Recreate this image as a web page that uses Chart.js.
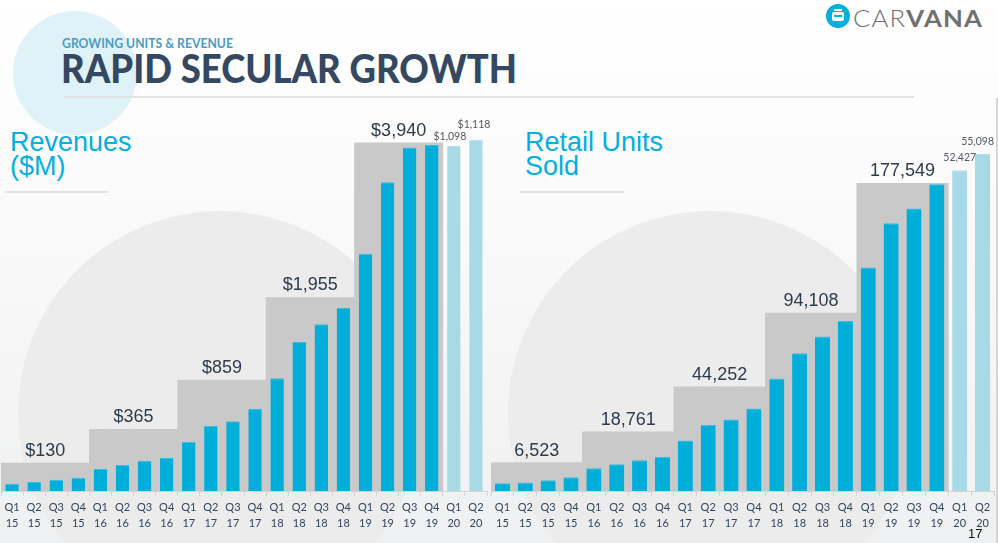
<!DOCTYPE html>
<html>
<head>
<meta charset="utf-8">
<script src="https://cdn.jsdelivr.net/npm/chart.js@4.4.1/dist/chart.umd.min.js"></script>
<style>
  html, body { margin:0; padding:0; }
  body { width:998px; height:543px; position:relative; overflow:hidden;
         background: linear-gradient(#ffffff 0%, #fafafa 40%, #eff0f1 100%);
         font-family: "Liberation Sans", Arial, sans-serif; }
  .abs { position:absolute; }
  .circle { position:absolute; border-radius:50%; }
  #sub { left:62px; top:36px; font:700 12.5px Lato, sans-serif; color:#4a9cc3; white-space:nowrap; transform-origin:0 0; }
  #title { left:61px; top:46px; font:900 40px Lato, sans-serif; color:#344862; white-space:nowrap; transform-origin:0 0; line-height:44px; }
  #rule { left:64px; top:96px; width:850px; height:2px; background:#e3e3e3; }
  .sect { font-family:"Liberation Sans", Arial, sans-serif; font-size:27px; color:#06aee0; line-height:24px; white-space:nowrap; }
  .srule { height:2px; background:#e2e2e2; }
  #logo { left:853px; top:4px; font:23px Lato, sans-serif; color:#707070; white-space:nowrap; transform-origin:0 0; letter-spacing:1px; }
  #pg { left:968px; top:526px; font:13px "Liberation Sans", Arial, sans-serif; color:#111; }
  canvas { display:block; }
</style>
</head>
<body>
<div class="circle" style="left:13px;top:11px;width:124px;height:124px;background:#dff2f8;"></div>
<div class="circle" style="left:18px;top:211px;width:404px;height:404px;background:#ececec;"></div>
<div class="circle" style="left:508px;top:211px;width:404px;height:404px;background:#ececec;"></div>
<div class="abs" style="left:996px;top:98px;width:2px;height:445px;background:#d6d6d6;"></div>

<div id="sub" class="abs">GROWING UNITS &amp; REVENUE</div>
<div id="title" class="abs">RAPID SECULAR GROWTH</div>
<div id="rule" class="abs"></div>

<div class="abs sect" style="left:10px;top:130px;">Revenues<br>($M)</div>
<div class="abs srule" style="left:5px;top:191px;width:103px;"></div>
<div class="abs sect" style="left:525px;top:130px;">Retail Units<br>Sold</div>
<div class="abs srule" style="left:520px;top:191px;width:104px;"></div>

<div class="circle" style="left:826px;top:4px;width:24px;height:24px;background:#04afdf;"></div>
<div class="abs" style="left:832px;top:12px;width:12px;height:9px;background:#ffffff;border-radius:2px;"></div>
<div class="abs" style="left:834px;top:9px;width:8px;height:2px;background:#ffffff;border-radius:1px;"></div>
<div class="abs" style="left:834px;top:15px;width:8px;height:2px;background:#04afdf;"></div>
<div id="logo" class="abs"><span style="font-weight:300">CAR</span><span style="font-weight:700">VANA</span></div>

<div class="abs" style="left:1px;top:100px;width:496px;height:443px;"><canvas id="c1"></canvas></div>
<div class="abs" style="left:491px;top:100px;width:507px;height:443px;"><canvas id="c2"></canvas></div>
<div id="pg" class="abs">17</div>

<script>
// ---------- data ----------
const quarterLabels = [
  ['Q1','15'],['Q2','15'],['Q3','15'],['Q4','15'],
  ['Q1','16'],['Q2','16'],['Q3','16'],['Q4','16'],
  ['Q1','17'],['Q2','17'],['Q3','17'],['Q4','17'],
  ['Q1','18'],['Q2','18'],['Q3','18'],['Q4','18'],
  ['Q1','19'],['Q2','19'],['Q3','19'],['Q4','19'],
  ['Q1','20'],['Q2','20']
];
// quarterly revenue, $M
const revenue = [23, 29, 36, 42, 70, 83, 96, 105, 157, 207, 222, 262,
                 359, 474, 531, 583, 755, 983, 1093, 1101, 1098, 1118];
// quarterly retail units sold
const retailUnits = [1250, 1370, 1740, 2230, 3700, 4360, 5010, 5610,
                     8270, 10770, 11700, 13490, 18390, 22520, 25240, 27800,
                     36550, 43790, 46170, 50150, 52427, 55098];
// annual totals 2015-2019
const revenueYearLabels = ['$130', '$365', '$859', '$1,955', '$3,940'];
const unitYearLabels = ['6,523', '18,761', '44,252', '94,108', '177,549'];
// level of the grey annual block, in axis units
const revenueBlockLevels = [89, 196, 353, 616, 1108];
const unitBlockLevels = [4634, 9692, 17034, 29108, 50318];
// quarters shown as labelled (lighter) bars
const revenueQuarterLabels = [null,null,null,null,null,null,null,null,null,null,null,
                              null,null,null,null,null,null,null,null,null,'$1,098','$1,118'];
const unitQuarterLabels = [null,null,null,null,null,null,null,null,null,null,null,
                           null,null,null,null,null,null,null,null,null,'52,427','55,098'];

// ---------- helpers ----------
function blockSeries(levels) {
  return quarterLabels.map((q, i) => {
    const y = Math.floor(i / 4);
    return y < levels.length ? levels[y] : null;
  });
}

const annotate = {
  id: 'annotate',
  afterDatasetsDraw(chart, args, opts) {
    const ctx = chart.ctx;
    const xs = chart.scales.x, ys = chart.scales.y;
    ctx.save();
    ctx.textAlign = 'center';
    ctx.textBaseline = 'middle';
    ctx.fillStyle = '#2f3b4d';
    ctx.font = '18px "Liberation Sans", Arial, sans-serif';
    opts.yearLabels.forEach((lab, k) => {
      const x0 = xs.getPixelForValue(k * 4), x1 = xs.getPixelForValue(k * 4 + 3);
      const y = ys.getPixelForValue(opts.levels[k]) - 12;
      ctx.fillText(lab, (x0 + x1) / 2, y);
    });
    ctx.font = '10.5px Lato, sans-serif';
    ctx.fillStyle = '#555a60';
    opts.pointLabels.forEach((lab, i) => {
      if (!lab) return;
      const x = xs.getPixelForValue(i);
      const y = ys.getPixelForValue(opts.values[i]) - opts.offsets[i - 20];
      ctx.fillText(lab, x + (opts.dx ? opts.dx[i - 20] : 0), y);
    });
    ctx.restore();
  }
};

function makeChart(id, values, levels, yearLabels, pointLabels, max, padTop, padRight, barPct, offsets, dx) {
  return new Chart(document.getElementById(id), {
    type: 'bar',
    data: {
      labels: quarterLabels,
      datasets: [
        {
          data: values,
          grouped: false,
          order: 1,
          barPercentage: barPct,
          categoryPercentage: 1,
          backgroundColor: (c) => quarterLabels[c.dataIndex][1] === '20' ? '#a7d9e7' : '#00aed9',
          borderColor: (c) => quarterLabels[c.dataIndex][1] === '20' ? '#b4dfeb' : '#30bfe3',
          borderWidth: { top: 1, left: 0, right: 0, bottom: 0 },
          borderSkipped: 'bottom'
        },
        {
          data: blockSeries(levels),
          grouped: false,
          order: 2,
          barPercentage: 1,
          categoryPercentage: 1,
          backgroundColor: '#c9c9c9',
          borderWidth: 0
        }
      ]
    },
    options: {
      responsive: true,
      maintainAspectRatio: false,
      animation: false,
      events: [],
      layout: { padding: { top: padTop, left: 0, right: padRight, bottom: 0 } },
      plugins: {
        legend: { display: false },
        tooltip: { enabled: false },
        annotate: { yearLabels, levels, pointLabels, values, offsets, dx }
      },
      scales: {
        x: {
          offset: true,
          afterFit: (s) => { s.height = 52; },
          grid: { display: true, drawOnChartArea: false, drawTicks: true, tickLength: 5,
                  offset: true, color: '#d4d4d4' },
          border: { display: true, color: '#d4d4d4', width: 1 },
          ticks: { padding: 3, color: '#33455e', maxRotation: 0, autoSkip: false,
                   font: { family: 'Lato, sans-serif', size: 11, lineHeight: 16 / 11 } }
        },
        y: { display: false, min: 0, max: max }
      }
    },
    plugins: [annotate]
  });
}

makeChart('c1', revenue, revenueBlockLevels, revenueYearLabels, revenueQuarterLabels, 1200, 14, 10, 0.61, [9, 15], [-4, -2]);
makeChart('c2', retailUnits, unitBlockLevels, unitYearLabels, unitQuarterLabels, 60000, 24, 4, 0.66, [13, 12], [0, -5]);

// fit header texts to measured widths
function fit(id, w) {
  const el = document.getElementById(id);
  const r = el.getBoundingClientRect().width;
  el.style.transform = 'scaleX(' + (w / r) + ')';
}
fit('sub', 171);
fit('title', 456);
fit('logo', 130);
</script>
</body>
</html>
